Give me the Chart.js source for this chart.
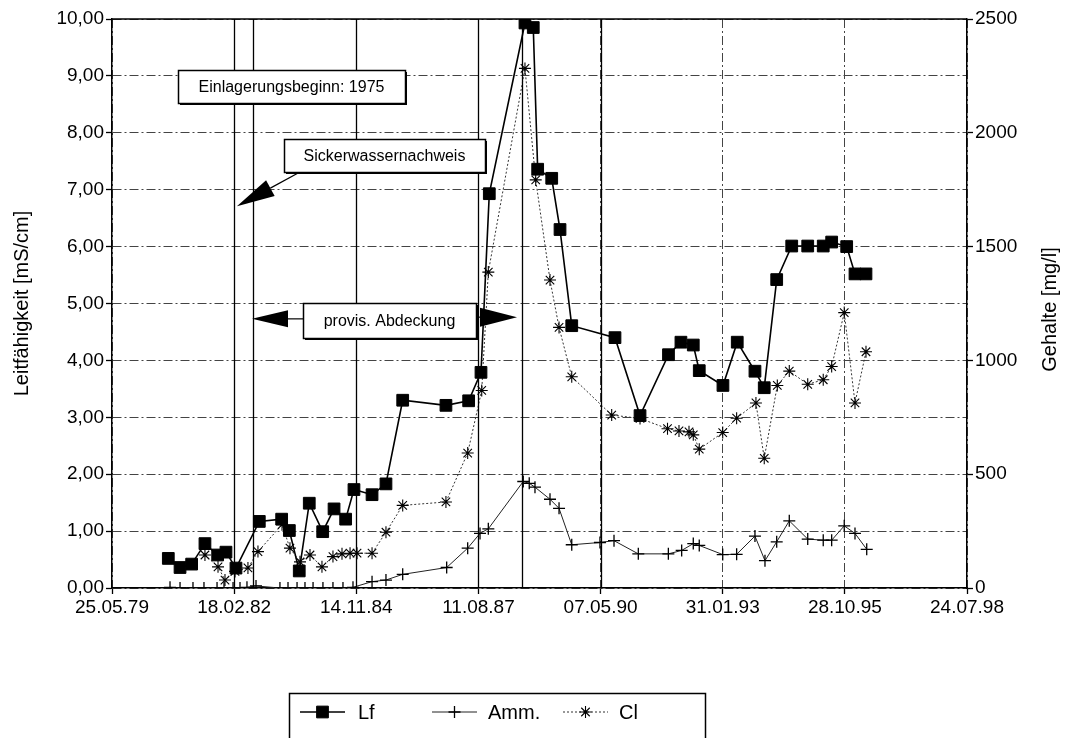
<!DOCTYPE html>
<html><head><meta charset="utf-8">
<script src="https://cdn.jsdelivr.net/npm/chart.js@4.4.1/dist/chart.umd.min.js"></script>
<style>html,body{margin:0;padding:0;background:#fff}#wrap{width:1073px;height:738px;position:relative}</style>
</head><body><div id="wrap"><canvas id="c" width="1073" height="738"></canvas></div>
<script>
// ---- data (x values are spreadsheet date serials) ----
const xTickValues = [29000, 30000, 31000, 32000, 33000, 34000, 35000, 36000];
const xTickLabels = ['25.05.79','18.02.82','14.11.84','11.08.87','07.05.90','31.01.93','28.10.95','24.07.98'];

const lfDates  = [29461,29557,29652,29761,29865,29933,30015,30206,30389,30452,30533,30615,30725,30818,30913,30981,31129,31243,31380,31734,31920,32021,32089,32381,32449,32485,32600,32668,32764,33118,33323,33556,33658,33759,33808,34002,34119,34264,34340,34442,34565,34696,34823,34892,35015,35083,35173];
const lfValues = [0.52,0.36,0.42,0.78,0.58,0.63,0.35,1.17,1.21,1.01,0.30,1.49,0.99,1.39,1.21,1.73,1.64,1.83,3.30,3.21,3.29,3.79,6.93,9.93,9.85,7.36,7.20,6.30,4.61,4.40,3.03,4.10,4.32,4.27,3.82,3.56,4.32,3.81,3.52,5.42,6.01,6.01,6.01,6.08,6.00,5.52,5.52];

const ammDates  = [29475,29557,29663,29753,29860,29917,29991,30048,30105,30179,30375,30441,30515,30580,30646,30727,30809,30891,30973,31129,31243,31380,31740,31912,32013,32081,32367,32416,32463,32586,32660,32764,32995,33110,33309,33555,33664,33759,33808,34000,34114,34264,34346,34442,34545,34696,34823,34892,34995,35083,35179];
const ammValues = [3,0,0,0,0,0,0,0,3,9,0,0,0,0,0,0,0,0,3,28,35,60,90,175,240,260,468,460,443,390,350,190,200,208,150,150,165,195,187,147,148,228,120,203,295,215,210,210,273,240,170];

const clDates  = [29761,29868,29925,30007,30113,30195,30392,30457,30539,30621,30719,30809,30883,30949,31006,31129,31243,31380,31734,31912,32027,32081,32381,32469,32586,32660,32764,33091,33323,33548,33642,33724,33759,33808,34000,34114,34272,34340,34447,34545,34696,34823,34892,34995,35083,35173];
const clValues = [145,93,35,73,88,160,278,175,115,145,93,138,150,153,153,153,245,363,378,593,868,1388,2283,1793,1353,1145,928,760,745,700,690,686,673,610,683,746,813,570,890,953,895,915,973,1210,813,1038];

// event lines (date serials)
const eventDates = [30000, 30154, 31000, 32000, 32357, 33000];
const noteTexts = ['Einlagerungsbeginn: 1975', 'Sickerwassernachweis', 'provis. Abdeckung'];
// note boxes in data units: [dateFrom, dateTo, yTop, yBottom] (left axis units)
const noteBoxes = [[29540, 31399, 9.10, 8.52], [30408, 32054, 7.89, 7.31], [30564, 31980, 5.01, 4.39]];
// arrows: [tailDate, tailY, tipDate, tipY, headLen, headHalf]
const noteArrows = [[30539, 7.31, 30023, 6.71, 38, 9], [30564, 4.73, 30146, 4.73, 36, 8.5], [31980, 4.76, 32316, 4.76, 37, 9.5]];

const rightTitle = 'Gehalte [mg/l]';
const FONT = "'Liberation Sans', Arial, Helvetica, sans-serif";

function pts(xs, ys) { return xs.map((x, i) => ({ x: x, y: ys[i] })); }

const annotPlugin = {
  id: 'annot',
  afterDatasetsDraw(chart) {
    const ctx = chart.ctx, xs = chart.scales.x, ys = chart.scales.y, a = chart.chartArea;
    ctx.save();
    ctx.strokeStyle = '#000'; ctx.lineWidth = 1.5; ctx.setLineDash([]);
    ctx.beginPath(); ctx.moveTo(a.left, a.top); ctx.lineTo(a.right, a.top); ctx.stroke();
    ctx.lineWidth = 1.3;
    eventDates.forEach(d => {
      const px = Math.round(xs.getPixelForValue(d)) + 0.5;
      ctx.beginPath(); ctx.moveTo(px, a.top); ctx.lineTo(px, a.bottom); ctx.stroke();
    });
    ctx.fillStyle = '#000';
    noteArrows.forEach(ar => {
      const tx = xs.getPixelForValue(ar[0]), ty = ys.getPixelForValue(ar[1]);
      const hx = xs.getPixelForValue(ar[2]), hy = ys.getPixelForValue(ar[3]);
      const dx = hx - tx, dy = hy - ty, L = Math.hypot(dx, dy), ux = dx / L, uy = dy / L;
      const bx = hx - ux * ar[4], by = hy - uy * ar[4];
      ctx.lineWidth = 1.2;
      ctx.beginPath(); ctx.moveTo(tx, ty); ctx.lineTo(bx, by); ctx.stroke();
      ctx.beginPath();
      ctx.moveTo(hx, hy);
      ctx.lineTo(bx - uy * ar[5], by + ux * ar[5]);
      ctx.lineTo(bx + uy * ar[5], by - ux * ar[5]);
      ctx.closePath(); ctx.fill();
    });
    noteBoxes.forEach((b, i) => {
      const x1 = Math.round(xs.getPixelForValue(b[0])), x2 = Math.round(xs.getPixelForValue(b[1]));
      const y1 = Math.round(ys.getPixelForValue(b[2])), y2 = Math.round(ys.getPixelForValue(b[3]));
      ctx.fillStyle = '#000';
      ctx.fillRect(x1 + 2, y1 + 2, x2 - x1, y2 - y1);
      ctx.fillStyle = '#fff';
      ctx.fillRect(x1, y1, x2 - x1, y2 - y1);
      ctx.lineWidth = 1.5; ctx.strokeStyle = '#000';
      ctx.strokeRect(x1 + 0.5, y1 + 0.5, x2 - x1, y2 - y1);
      ctx.fillStyle = '#000';
      ctx.font = '16px ' + FONT; ctx.textAlign = 'center'; ctx.textBaseline = 'middle';
      ctx.fillText(noteTexts[i], (x1 + x2) / 2, (y1 + y2) / 2 + 1);
    });
    ctx.restore();
  },
  afterDraw(chart) {
    const ctx = chart.ctx, a = chart.chartArea;
    ctx.save();
    // right axis title, reading bottom to top
    ctx.fillStyle = '#000';
    ctx.font = '20px ' + FONT; ctx.textAlign = 'center'; ctx.textBaseline = 'middle';
    ctx.translate(1050, (a.top + a.bottom) / 2 + 6);
    ctx.rotate(-Math.PI / 2);
    ctx.fillText(rightTitle, 0, 0);
    ctx.restore();
    ctx.save();
    // legend box
    const lx = 289, ly = 693, lw = 416;
    ctx.strokeStyle = '#000'; ctx.lineWidth = 1.5; ctx.setLineDash([]);
    ctx.strokeRect(lx + 0.5, ly + 0.5, lw, 80);
    const cy = 712;
    const items = chart.data.datasets;
    const starts = [300, 432, 563];
    const textX = [358, 488, 619];
    items.forEach((ds, i) => {
      const s = starts[i], e = s + 45, m = (s + e) / 2;
      ctx.strokeStyle = ds.borderColor; ctx.lineWidth = ds.borderWidth;
      ctx.setLineDash(ds.borderDash || []);
      ctx.beginPath(); ctx.moveTo(s, cy); ctx.lineTo(e, cy); ctx.stroke();
      ctx.setLineDash([]);
      ctx.strokeStyle = '#000'; ctx.fillStyle = '#000'; ctx.lineWidth = ds.pointBorderWidth || 1;
      Chart.helpers.drawPoint(ctx, {
        pointStyle: ds.pointStyle, rotation: 0, radius: ds.pointRadius, borderWidth: ds.pointBorderWidth || 1
      }, m, cy);
      ctx.fillStyle = '#000';
      ctx.font = '20px ' + FONT; ctx.textAlign = 'left'; ctx.textBaseline = 'middle';
      ctx.fillText(ds.label, textX[i], cy + 1);
    });
    ctx.restore();
  }
};

const gridDash = [9, 3, 2, 3];

new Chart(document.getElementById('c'), {
  type: 'line',
  data: {
    datasets: [
      { label: 'Lf', data: pts(lfDates, lfValues), yAxisID: 'y',
        borderColor: '#000', backgroundColor: '#000', borderWidth: 1.6,
        pointStyle: 'rect', pointRadius: 8.3, pointBorderWidth: 1, pointBackgroundColor: '#000', pointBorderColor: '#000' },
      { label: 'Amm.', data: pts(ammDates, ammValues), yAxisID: 'y1',
        borderColor: '#222', backgroundColor: '#000', borderWidth: 1,
        pointStyle: 'cross', pointRadius: 6, pointBorderWidth: 1.3, pointBorderColor: '#000' },
      { label: 'Cl', data: pts(clDates, clValues), yAxisID: 'y1',
        borderColor: '#333', backgroundColor: '#000', borderWidth: 1, borderDash: [2, 2],
        pointStyle: 'star', pointRadius: 6, pointBorderWidth: 1.1, pointBorderColor: '#000' }
    ]
  },
  options: {
    responsive: false, animation: false, devicePixelRatio: 1,
    layout: { padding: { top: 19, left: 0, right: 0, bottom: 0 } },
    plugins: { legend: { display: false }, tooltip: { enabled: false } },
    elements: { line: { tension: 0, fill: false } },
    scales: {
      x: {
        type: 'linear', min: 29000, max: 36000,
        afterBuildTicks: s => { s.ticks = xTickValues.map(v => ({ value: v })); },
        afterFit: s => { s.height = 150; },
        ticks: { color: '#000', font: { family: FONT, size: 19 }, maxRotation: 0, autoSkip: false, padding: 2,
          callback: v => { const i = xTickValues.indexOf(v); return i >= 0 ? xTickLabels[i] : ''; } },
        grid: { color: '#444', lineWidth: 1, tickLength: 6, tickColor: '#000', tickWidth: 1.3 },
        border: { color: '#000', width: 1.5, dash: gridDash }
      },
      y: {
        position: 'left', min: 0, max: 10,
        afterFit: s => { s.width = 112; },
        ticks: { stepSize: 1, color: '#000', font: { family: FONT, size: 19 }, padding: 2,
          callback: v => v.toFixed(2).replace('.', ',') },
        grid: { color: '#444', lineWidth: 1, tickLength: 6, tickColor: '#000', tickWidth: 1.3 },
        border: { color: '#000', width: 1.5, dash: gridDash },
        title: { display: true, text: 'Leitfähigkeit [mS/cm]', color: '#000', font: { family: FONT, size: 20 }, padding: { top: 10 } }
      },
      y1: {
        position: 'right', min: 0, max: 2500,
        afterFit: s => { s.width = 106; },
        ticks: { stepSize: 500, color: '#000', font: { family: FONT, size: 19 }, padding: 2,
          callback: v => String(v) },
        grid: { drawOnChartArea: false, tickLength: 6, tickColor: '#000', tickWidth: 1.3 },
        border: { color: '#000', width: 1.5 }
      }
    }
  },
  plugins: [annotPlugin]
});
</script>
</body></html>
